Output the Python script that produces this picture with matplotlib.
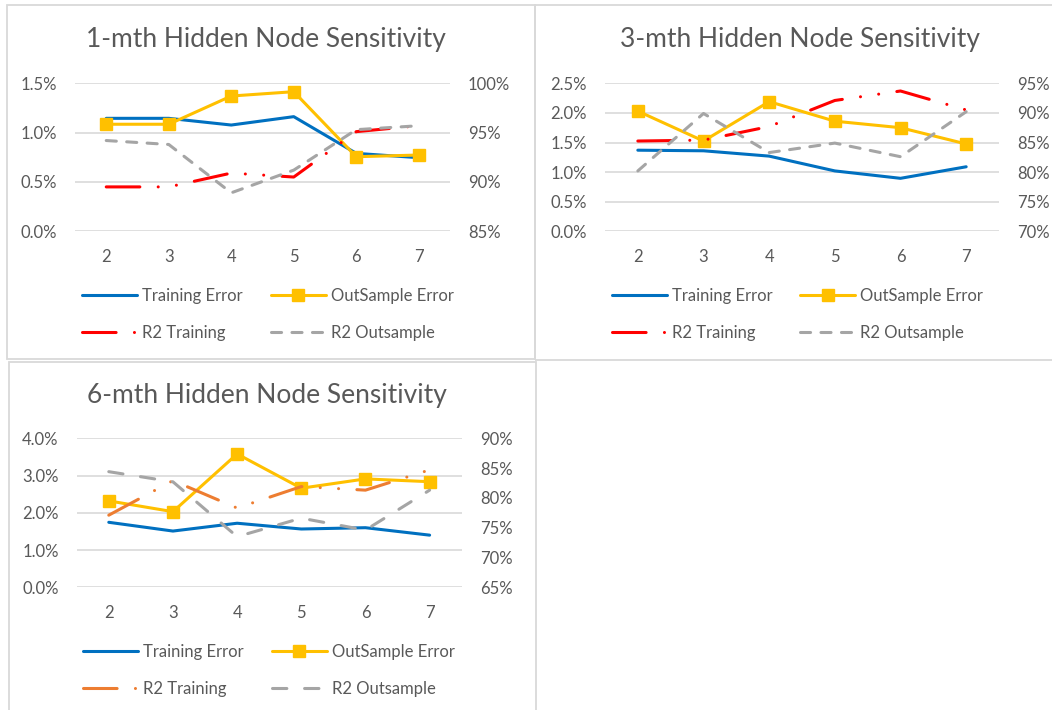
import matplotlib
matplotlib.use('Agg')
import matplotlib.pyplot as plt
from matplotlib.patches import Rectangle
from matplotlib.ticker import FixedLocator, FuncFormatter

plt.rcParams['font.family'] = ['Lato', 'DejaVu Sans']

nodes = [2, 3, 4, 5, 6, 7]

# 1-month
m1_train_err = [1.145, 1.145, 1.077, 1.162, 0.79, 0.746]
m1_out_err = [1.085, 1.085, 1.371, 1.415, 0.756, 0.773]
m1_r2_train = [89.5, 89.5, 90.9, 90.5, 95.1, 95.7]
m1_r2_out = [94.2, 93.8, 88.9, 91.2, 95.3, 95.7]

# 3-month
m3_train_err = [1.37, 1.36, 1.27, 1.02, 0.895, 1.09]
m3_out_err = [2.03, 1.525, 2.19, 1.86, 1.75, 1.475]
m3_r2_train = [85.25, 85.4, 87.7, 92.1, 93.7, 90.5]
m3_r2_out = [80.2, 89.9, 83.3, 84.9, 82.6, 90.2]

# 6-month
m6_train_err = [1.745, 1.51, 1.72, 1.565, 1.60, 1.40]
m6_out_err = [2.32, 2.03, 3.58, 2.66, 2.91, 2.835]
m6_r2_train = [77.1, 82.9, 78.3, 81.9, 81.3, 84.7]
m6_r2_out = [84.4, 82.7, 73.5, 76.6, 74.6, 81.3]

titles = ["1-mth Hidden Node Sensitivity", "3-mth Hidden Node Sensitivity",
          "6-mth Hidden Node Sensitivity"]
labels = ["Training Error", "OutSample Error", "R2 Training", "R2 Outsample"]

W, H = 1052, 710
fig = plt.figure(figsize=(W / 100, H / 100), dpi=100)

TXT = '#595959'
GRID = '#D9D9D9'
BLUE = '#0070C0'
YEL = '#FFC000'
RED = '#FF0000'
ORG = '#ED7D31'
GRAY = '#A5A5A5'
LW = 2.2
FS = 12


def fx(px):
    return px / W


def fy(py):
    return 1 - py / H


def panel(x0, y0, x1, y1):
    fig.patches.append(Rectangle((fx(x0), fy(y1)), (x1 - x0) / W, (y1 - y0) / H,
                                 transform=fig.transFigure, fill=False,
                                 edgecolor=GRID, lw=1.3))


panel(7, 5, 535, 359)
panel(535, 5, 1060, 360)
panel(9, 362, 536, 720)


def chart(box, title_xy, leg_xy, tr, oe, r2t, r2o, ylim, ystep, y2lim, r2t_col,
          gray_dash):
    left, right, top, bottom = box
    ax = fig.add_axes([fx(left), fy(bottom), (right - left) / W, (bottom - top) / H])
    ax2 = ax.twinx()
    ax.set_xlim(1.5, 7.5)
    ax.set_ylim(*ylim)
    ax2.set_ylim(*y2lim)
    n = int(round((ylim[1] - ylim[0]) / ystep))
    lt = [ylim[0] + i * ystep for i in range(n + 1)]
    n2 = int(round((y2lim[1] - y2lim[0]) / 5))
    rt = [y2lim[0] + i * 5 for i in range(n2 + 1)]
    ax.yaxis.set_major_locator(FixedLocator(lt))
    ax2.yaxis.set_major_locator(FixedLocator(rt))
    ax.yaxis.set_major_formatter(FuncFormatter(lambda v, p: f"{v:.1f}%"))
    ax2.yaxis.set_major_formatter(FuncFormatter(lambda v, p: f"{v:.0f}%"))
    ax.set_xticks(nodes)
    ax.set_xticklabels([str(v) for v in nodes])
    for a in (ax, ax2):
        for s in a.spines.values():
            s.set_visible(False)
        a.tick_params(length=0, colors=TXT, labelsize=FS)
    ax.tick_params(axis='y', pad=13)
    ax2.tick_params(axis='y', pad=13)
    ax.tick_params(axis='x', pad=12.5)
    ax.grid(axis='y', color=GRID, lw=1.2)
    ax.set_axisbelow(True)
    ax.patch.set_visible(False)

    common = dict(solid_joinstyle='round', solid_capstyle='round',
                  dash_joinstyle='round', dash_capstyle='round', lw=LW)
    h1, = ax.plot(nodes, tr, color=BLUE, **common)
    h2, = ax.plot(nodes, oe, color=YEL, marker='s', ms=8.5, mec=YEL, mfc=YEL, **common)
    h3, = ax2.plot(nodes, r2t, color=r2t_col, dashes=(11, 6, 0.01, 6, 0.01, 6), **common)
    h4, = ax2.plot(nodes, r2o, color=GRAY, dashes=gray_dash, **common)

    fig.text(fx(title_xy[0]), fy(title_xy[1]), title_xy[2], ha='center', va='center',
             fontsize=19, color=TXT)

    ax.legend([h1, h3, h2, h4], [labels[0], labels[2], labels[1], labels[3]],
              ncol=2, loc='upper left', bbox_to_anchor=(fx(leg_xy[0]), fy(leg_xy[1])),
              bbox_transform=fig.transFigure, frameon=False, fontsize=FS,
              handlelength=3.3, handletextpad=0.3, columnspacing=1.7,
              labelspacing=1.25, borderpad=0, borderaxespad=0, labelcolor=TXT)


chart((75, 450, 83.3, 231.3), (265.5, 40, titles[0]), (82, 288),
      m1_train_err, m1_out_err, m1_r2_train, m1_r2_out,
      (0, 1.5), 0.5, (85, 100), RED, (3.3, 3.4))
chart((605, 999, 83.3, 231.3), (799.7, 40, titles[1]), (611.5, 288),
      m3_train_err, m3_out_err, m3_r2_train, m3_r2_out,
      (0, 2.5), 0.5, (70, 95), RED, (3.3, 3.4))
chart((76.7, 461.7, 438.3, 587.3), (267, 395, titles[2]), (83, 644),
      m6_train_err, m6_out_err, m6_r2_train, m6_r2_out,
      (0, 4.0), 1.0, (65, 90), ORG, (4.7, 5.8))

fig.savefig('out.png', dpi=100, facecolor='white')
